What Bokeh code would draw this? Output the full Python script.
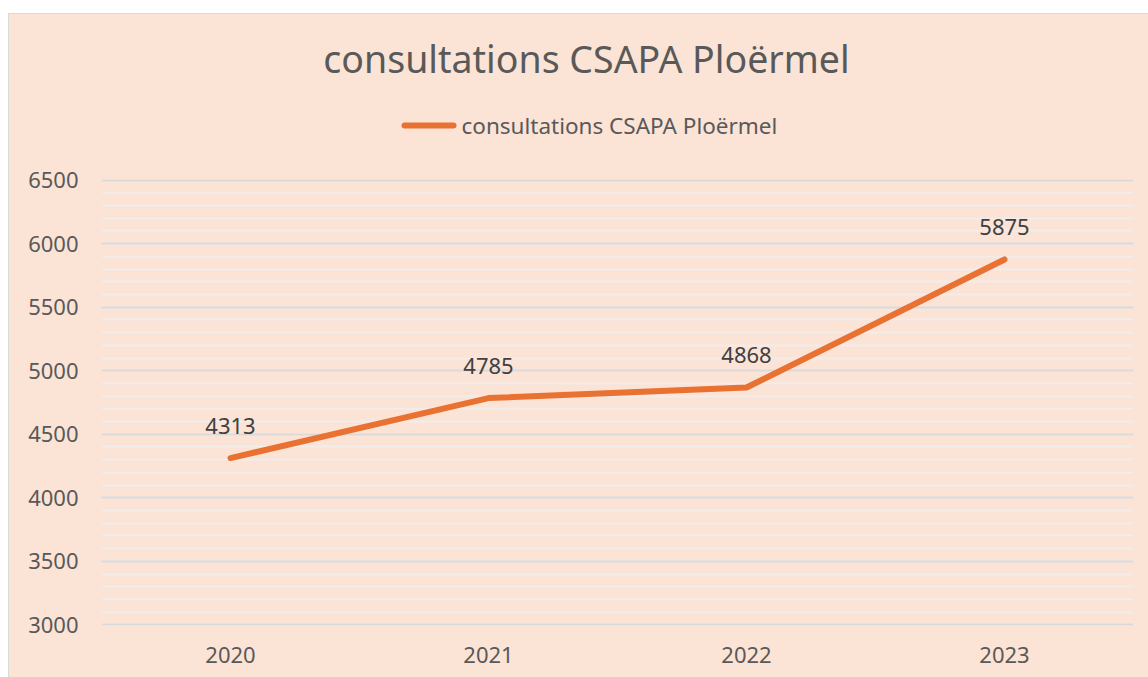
from bokeh.plotting import figure
from bokeh.layouts import column
from bokeh.models import ColumnDataSource, LabelSet, SingleIntervalTicker, Range1d
from bokeh.core.properties import value
from bokeh.embed import file_html
from bokeh.resources import INLINE

years = ["2020", "2021", "2022", "2023"]
consultations = [4313, 4785, 4868, 5875]
series_name = "consultations CSAPA Ploërmel"
title_text = "consultations CSAPA Ploërmel"
y_min, y_max = 3000, 6500

FONT = "Noto Sans"
BG = "#FBE3D6"
TXT = "#595959"
ORANGE = "#E97132"
W = 1140
BL, BR = 92, 16

# ---- header (title + legend), coordinates in px of the figure ----
HEAD_H = 150
head = figure(width=W, height=HEAD_H, x_range=Range1d(BL, W - BR), y_range=Range1d(HEAD_H, 0),
              output_backend="svg", toolbar_location=None, min_border=0,
              min_border_left=BL, min_border_right=BR,
              x_axis_type=None, y_axis_type=None)
head.background_fill_color = None
head.border_fill_color = BG
head.outline_line_color = None
head.grid.visible = False
head.text(x=[577], y=[44], text=[title_text], text_align="center", text_baseline="middle",
          text_font=value(FONT), text_font_size="37.5px", text_color=TXT)
head.line(x=[395, 444], y=[111, 111], line_color=ORANGE, line_width=6, line_cap="round")
head.text(x=[452], y=[111], text=[series_name], text_align="left", text_baseline="middle",
          text_font=value(FONT), text_font_size="22.5px", text_color=TXT)

# ---- main chart ----
src = ColumnDataSource(dict(year=years, value=consultations,
                            label=[str(v) for v in consultations]))

# a hair of padding so that the first and last grid lines are drawn in full
p = figure(x_range=years, y_range=Range1d(y_min - 4, y_max + 4), width=W,
           height=677 - 14 - HEAD_H,
           output_backend="svg", toolbar_location=None,
           min_border_left=BL, min_border_right=BR, min_border_bottom=52, min_border_top=15)
p.background_fill_color = None
p.border_fill_color = BG
p.outline_line_color = None

p.yaxis.ticker = SingleIntervalTicker(interval=500, num_minor_ticks=5)
p.ygrid.grid_line_color = "#D9D9D9"
p.ygrid.grid_line_width = 2
p.ygrid.minor_grid_line_color = "#F2EDEA"
p.ygrid.minor_grid_line_width = 2
p.xgrid.grid_line_color = None

p.line("year", "value", source=src, line_color=ORANGE, line_width=6, line_cap="round",
       line_join="round")

labels = LabelSet(x="year", y="value", text="label", source=src, text_align="center",
                  text_baseline="bottom", y_offset=24, text_font=value(FONT),
                  text_font_size="22px", text_color="#404040")
p.add_layout(labels)

for ax in (p.xaxis, p.yaxis):
    ax.axis_line_color = None
    ax.major_tick_line_color = None
    ax.minor_tick_line_color = None
    ax.major_label_text_font = FONT
    ax.major_label_text_font_size = "22px"
    ax.major_label_text_color = TXT
p.yaxis.major_label_standoff = 17
p.xaxis.major_label_standoff = 15
p.x_range.range_padding = 0

layout = column(head, p, spacing=0, margin=(13, 0, 0, 8),
                styles={"border-left": "1px solid #D9D9D9", "border-top": "1px solid #D9D9D9",
                        "background-color": BG})

open("out.html", "w").write(file_html(layout, INLINE))
